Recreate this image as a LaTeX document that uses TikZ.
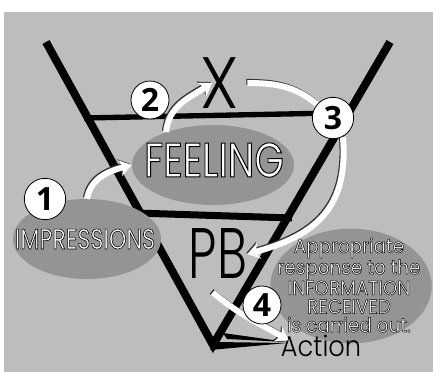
\documentclass[tikz,border=0pt]{standalone}
\usepackage{fontspec}
\usetikzlibrary{arrows.meta,shapes.geometric}
\newfontfamily\gothic{Poppins}[FakeStretch=0.78, FakeBold=2]
\newfontfamily\gothicwide{Poppins}[FakeStretch=0.92, FakeBold=2.5]
\newfontfamily\gothiclight{Poppins}[UprightFont={* Light},FakeStretch=0.9]
\newfontfamily\digits{Open Sans}[UprightFont={* Bold}]
\definecolor{backdrop}{gray}{0.74}
\definecolor{blobgray}{gray}{0.58}
\pgfdeclarelayer{front}
\pgfsetlayers{main,front}
% white letters with a thin black rim (fill white, stroke black)
\newcommand\rimmed[1]{\special{pdf:bcolor [1] [0]}#1\special{pdf:ecolor}}

\begin{document}
\begin{tikzpicture}[x=0.75pt, y=-0.75pt,
    beam/.style={line width=6pt, line join=miter},
    blob/.style={ellipse, fill=blobgray, inner sep=0pt},
    badge/.style={circle, draw=black, line width=0.6pt, fill=white, minimum size=28.5pt, inner sep=0pt, font=\digits\fontsize{24}{24}\selectfont},
    flow/.style={draw=white, line width=4.5pt, -{Stealth[length=9pt, width=12pt, inset=2.5pt]},
      preaction={draw=black!80, line width=4.5pt, transform canvas={xshift=-0.8pt, yshift=0.8pt}}},
    word/.style={inner sep=0pt, text=black}
  ]
  \useasboundingbox (0,0) rectangle (433,372);
  \fill[backdrop] (4,12) rectangle (433,372);

  % the funnel
  \draw[beam] (46,42) -- (213,345) -- (390,42);
  \draw[line width=4pt] (84,118) -- (335,113);
  \draw[line width=5.25pt] (136,213) -- (292,218);
  \fill (210,350) -- (216,342) -- (287,343) -- cycle;
  \fill (223,333) -- (227,339) -- (287,342) -- cycle;

  % grey patches
  \node[blob, minimum width=111pt, minimum height=60pt] (impblob) at (87,239) {};
  \node[blob, minimum width=121.5pt, minimum height=60pt] (feelblob) at (213,165) {};
  \node[blob, minimum width=121pt, minimum height=86pt] (respblob) at (351,286) {};

  % texts
  \node[word, font=\gothiclight\fontsize{54.6}{55}\selectfont] (xsym) at (220,83) {X};
  \node[word, font=\gothiclight\fontsize{53.6}{54}\selectfont] (pb) at (218,254) {\scalebox{0.78}[1]{PB}};
  \node[word, font=\gothiclight\fontsize{21.4}{22}\selectfont] (action) at (321,346) {Action};
  \node[word, font=\gothic\fontsize{36.4}{37}\selectfont] (feeling) at (214,160) {\rimmed{FEELING}};
  \node[word, font=\gothic\fontsize{21.4}{22}\selectfont] (impr) at (85,239) {\rimmed{IMPRESSIONS}};
  \node[word, align=center, font=\gothicwide\fontsize{15}{14}\selectfont] (resp) at (349,285)
    {\rimmed{Appropriate}\\\rimmed{response to the}\\\rimmed{INFORMATION}\\\rimmed{RECEIVED}\\\rimmed{is carried out.}};

  % numbered steps
  \begin{pgfonlayer}{front}
    \node[badge, minimum size=31pt] (n1) at (45,199) {1};
    \node[badge] (n2) at (150,100) {2};
    \node[badge, minimum size=31pt] (n3) at (333,118) {3};
    \node[badge] (n4) at (262,305) {4};
  \end{pgfonlayer}

  \draw[flow] (impblob.north) to[out=80, in=195] (feelblob.west);
  \draw[flow] (feelblob.145) to[out=85, in=213] ([xshift=-6pt]xsym.center);
  \draw[flow, -] ([xshift=6pt]xsym.east) to[out=0, in=140] (n3);
  \draw[flow] (n3.-62) to[out=-85, in=15, looseness=1.2] (pb.east);
  \draw[flow] ([xshift=-4pt, yshift=-10pt]pb.south) to[out=-40, in=150] ([xshift=6pt, yshift=-4pt]action.north west);
\end{tikzpicture}
\end{document}
